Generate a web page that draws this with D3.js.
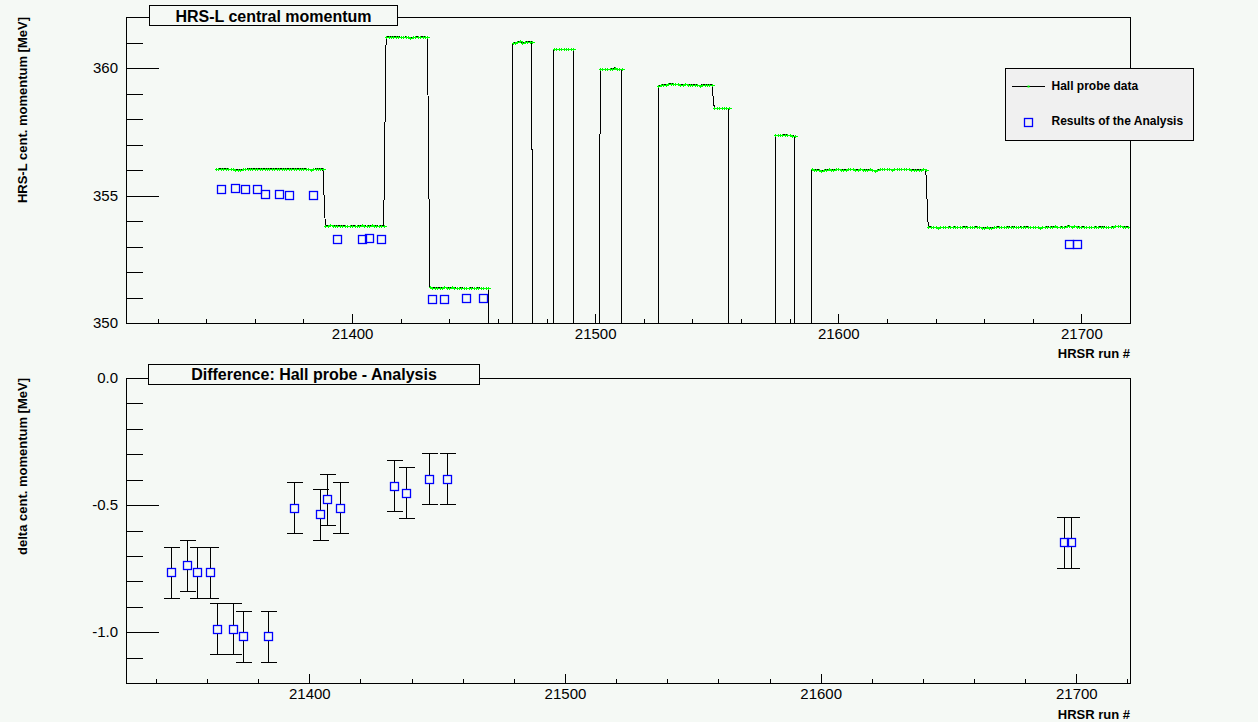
<!DOCTYPE html>
<html>
<head>
<meta charset="utf-8">
<script src="https://cdn.jsdelivr.net/npm/d3@7/dist/d3.min.js"></script>
<style>
  html, body { margin: 0; padding: 0; background: #f5f9f5; }
  svg { display: block; font-family: "Liberation Sans", Arial, Helvetica, sans-serif; }
</style>
</head>
<body>
<svg id="chart" width="1258" height="722"></svg>
<script>
// ---------------- DATA ----------------
// Hall probe readings: one value per run, consecutive runs starting at hallSegStart[i]
const hallSegStart = [21344, 21389, 21414, 21432, 21466, 21483, 21502, 21526, 21549, 21574, 21589, 21637];
const hallSeg1 = [
  356.03, 356.04, 356.04, 356.04, 356.05, 356.04, 356.02, 356.04, 356.00, 356.01, 356.00, 356.02, 356.03, 356.04, 356.04,
  356.05, 356.04, 356.04, 356.05, 356.04, 356.04, 356.04, 356.05, 356.04, 356.04, 356.04, 356.05, 356.04, 356.04, 356.04,
  356.05, 356.04, 356.04, 356.04, 356.04, 356.05, 356.04, 356.04, 356.03, 356.01, 356.03, 356.04, 356.04, 356.05, 356.04];
const hallSeg2 = [
  353.80, 353.82, 353.83, 353.82, 353.81, 353.82, 353.80, 353.82, 353.81, 353.79, 353.80, 353.82, 353.81,
  353.80, 353.82, 353.83, 353.82, 353.80, 353.82, 353.83, 353.81, 353.82, 353.80, 353.82, 353.81];
const hallSeg3 = [
  361.21, 361.22, 361.23, 361.22, 361.22, 361.23, 361.21, 361.20, 361.22,
  361.21, 361.19, 361.20, 361.22, 361.22, 361.21, 361.22, 361.22, 361.21];
const hallSeg4 = [
  351.42, 351.39, 351.38, 351.37, 351.38, 351.38, 351.40, 351.38, 351.39, 351.41, 351.38, 351.37, 351.37,
  351.38, 351.37, 351.37, 351.37, 351.38, 351.37, 351.37, 351.38, 351.37, 351.37, 351.37, 351.36];
const hallSeg5 = [360.97, 361.00, 361.02, 361.04, 361.00, 361.01, 361.03, 361.03, 361.03];
const hallSeg6 = [360.73, 360.74, 360.73, 360.73, 360.74, 360.73, 360.73, 360.73, 360.73];
const hallSeg7 = [359.95, 359.95, 359.95, 359.96, 359.95, 359.98, 360.00, 359.97, 359.95, 359.95];
const hallSeg8 = [
  359.31, 359.33, 359.35, 359.35, 359.36, 359.39, 359.37, 359.36, 359.36, 359.35, 359.35, 359.36,
  359.35, 359.35, 359.35, 359.35, 359.33, 359.31, 359.34, 359.35, 359.35, 359.35, 359.35];
const hallSeg8b = [358.42, 358.42, 358.43, 358.42, 358.42, 358.42, 358.42];
const hallSeg9 = [357.36, 357.37, 357.37, 357.37, 357.38, 357.37, 357.37, 357.35, 357.33];
const hallSeg10 = [
  356.02, 356.01, 356.01, 356.00, 355.95, 356.00, 356.01, 356.02, 356.01, 356.01, 356.02, 356.02,
  356.01, 356.00, 356.01, 356.02, 356.03, 356.02, 356.01, 356.01, 356.02, 356.01, 356.00, 356.01,
  356.02, 356.00, 355.95, 356.01, 356.02, 356.03, 356.02, 356.02, 356.02, 356.01, 356.02, 356.02,
  356.02, 356.02, 356.02, 356.02, 356.02, 356.01, 356.00, 356.01, 356.00, 356.01, 356.02, 356.01];
const hallSeg11 = [
  353.76, 353.77, 353.75, 353.76, 353.74, 353.75, 353.76, 353.75, 353.75, 353.77, 353.76, 353.77,
  353.76, 353.75, 353.76, 353.77, 353.77, 353.75, 353.76, 353.76, 353.77, 353.76, 353.74, 353.74,
  353.75, 353.74, 353.74, 353.75, 353.76, 353.77, 353.76, 353.75, 353.76, 353.77, 353.76, 353.77,
  353.76, 353.75, 353.77, 353.76, 353.77, 353.77, 353.76, 353.75, 353.76, 353.75, 353.74, 353.75,
  353.76, 353.77, 353.76, 353.77, 353.79, 353.76, 353.75, 353.77, 353.76, 353.80, 353.82, 353.78,
  353.80, 353.77, 353.77, 353.76, 353.77, 353.75, 353.76, 353.76, 353.75, 353.77, 353.76, 353.77,
  353.78, 353.76, 353.75, 353.76, 353.77, 353.80, 353.79, 353.79, 353.78, 353.77, 353.77, 353.76];
// runs where the probe reading was off (value 0, far below the axis)
const hallOffRuns = [21457, 21465, 21475, 21482, 21492, 21501, 21512, 21525, 21556, 21573, 21583, 21588];
const hallOffValue = 0;

// Analysis results
const anaRuns = [21346, 21352, 21356, 21361, 21364, 21370, 21374, 21384, 21394, 21404, 21407, 21412,
                 21433, 21438, 21447, 21454, 21695, 21698];
const anaMomentum = [355.27, 355.30, 355.27, 355.27, 355.05, 355.05, 355.02, 355.02, 353.31, 353.28, 353.34, 353.31,
                     350.96, 350.93, 350.98, 350.98, 353.11, 353.11];
const deltaValues = [-0.765, -0.737, -0.765, -0.765, -0.987, -0.987, -1.016, -1.016, -0.510, -0.537, -0.478, -0.510,
                     -0.424, -0.451, -0.396, -0.396, -0.647, -0.647];
const deltaErrors = [0.1, 0.1, 0.1, 0.1, 0.1, 0.1, 0.1, 0.1, 0.1, 0.1, 0.1, 0.1, 0.1, 0.1, 0.1, 0.1, 0.1, 0.1];

// Tick labels
const xMajorTicks = [21400, 21500, 21600, 21700];
const yTopMajorTicks = [350, 355, 360];
const yBotMajorTicks = [-1.0, -0.5, 0.0];

// Texts
const topTitle = "HRS-L central momentum";
const botTitle = "Difference: Hall probe - Analysis";
const topYTitle = "HRS-L cent. momentum [MeV]";
const botYTitle = "delta cent. momentum [MeV]";
const xTitle = "HRSR run #";
const legendLabels = ["Hall probe data", "Results of the Analysis"];

// ---------------- STYLE ----------------
const BG = "#f5f9f5";
const GREEN = "#00ff00";
const BLUE = "#0000ff";

const svg = d3.select("#chart");
svg.append("rect").attr("width", 1258).attr("height", 722).attr("fill", BG);

// ---------------- SCALES ----------------
const xTop = d3.scaleLinear().domain([21307, 21720]).range([126, 1130]);
const yTop = d3.scaleLinear().domain([350, 362]).range([323, 17]);
const xBot = d3.scaleLinear().domain([21328.3, 21721]).range([126, 1130]);
const yBot = d3.scaleLinear().domain([-1.2, 0]).range([683, 378]);

function drawAxes(g, xs, ys, yMajors, yFmt, yMinorCount) {
  const [x0, x1] = xs.range();
  const [yb, yt] = ys.range();
  const xMinor = xs.ticks(20).filter(v => !xMajorTicks.includes(v));
  g.append("g").attr("transform", `translate(0,${yb})`)
    .call(d3.axisBottom(xs).tickValues(xMinor).tickSizeInner(-4.5).tickSizeOuter(0).tickFormat(""))
    .call(a => a.select(".domain").remove());
  g.append("g").attr("transform", `translate(0,${yb})`)
    .call(d3.axisBottom(xs).tickValues(xMajorTicks).tickSizeInner(-9.5).tickSizeOuter(0).tickPadding(5).tickFormat(d3.format("d")))
    .call(a => a.select(".domain").remove());
  const yMinor = ys.ticks(yMinorCount).filter(v => !yMajors.some(m => Math.abs(m - v) < 1e-9));
  g.append("g").attr("transform", `translate(${x0},0)`)
    .call(d3.axisLeft(ys).tickValues(yMinor).tickSizeInner(-16.5).tickSizeOuter(0).tickFormat(""))
    .call(a => a.select(".domain").remove());
  g.append("g").attr("transform", `translate(${x0},0)`)
    .call(d3.axisLeft(ys).tickValues(yMajors).tickSizeInner(-32.5).tickSizeOuter(0).tickPadding(8).tickFormat(yFmt))
    .call(a => a.select(".domain").remove());
  g.selectAll(".tick line").attr("stroke", "#000").attr("shape-rendering", "crispEdges");
  g.selectAll(".tick text").attr("font-size", 15).attr("fill", "#000")
    .attr("font-family", '"Liberation Sans", Arial, sans-serif');
  g.append("rect").attr("x", x0 + 0.5).attr("y", yt + 0.5)
    .attr("width", x1 - x0).attr("height", yb - yt)
    .attr("fill", "none").attr("stroke", "#000").attr("stroke-width", 1)
    .attr("shape-rendering", "crispEdges");
}

function titleBox(g, text, x, y, w, h, baseline) {
  g.append("rect").attr("x", x).attr("y", y).attr("width", w).attr("height", h)
    .attr("fill", BG).attr("stroke", "#000").attr("shape-rendering", "crispEdges");
  g.append("text").attr("x", x + w / 2).attr("y", baseline).attr("text-anchor", "middle")
    .attr("font-size", 16).attr("font-weight", "bold").text(text);
}

// ---------------- TOP PANEL ----------------
const topG = svg.append("g");
topG.append("clipPath").attr("id", "clipTop").append("rect")
  .attr("x", 126).attr("y", 17).attr("width", 1005).attr("height", 307);

const segs = [hallSeg1, hallSeg2, hallSeg3, hallSeg4, hallSeg5, hallSeg6, hallSeg7, hallSeg8, hallSeg8b, hallSeg9, hallSeg10, hallSeg11];
const hall = [];
segs.forEach((vals, i) => vals.forEach((v, j) => hall.push({ run: hallSegStart[i] + j, v })));
hallOffRuns.forEach(r => hall.push({ run: r, v: hallOffValue }));
hall.sort((a, b) => a.run - b.run);

const plotTop = topG.append("g").attr("clip-path", "url(#clipTop)");
plotTop.append("path").datum(hall)
  .attr("d", d3.line().x(d => xTop(d.run)).y(d => yTop(d.v)))
  .attr("fill", "none").attr("stroke", "#000").attr("stroke-width", 1)
  .attr("shape-rendering", "crispEdges");
const cross = 1.6;
plotTop.append("path")
  .attr("d", hall.filter(d => d.v >= 350).map(d => {
    const x = Math.round(xTop(d.run)) + 0.5, y = Math.round(yTop(d.v)) + 0.5;
    return `M${x - 2},${y}H${x + 2}M${x},${y - cross}V${y + cross}`;
  }).join(""))
  .attr("stroke", GREEN).attr("stroke-width", 1).attr("fill", "none")
  .attr("shape-rendering", "crispEdges");

topG.append("g").selectAll("rect").data(anaRuns).join("rect")
  .attr("x", d => Math.round(xTop(d)) - 4 + 0.5)
  .attr("y", (d, i) => Math.round(yTop(anaMomentum[i])) - 4 + 0.5)
  .attr("width", 8).attr("height", 8)
  .attr("fill", "none").attr("stroke", BLUE).attr("stroke-width", 1.3);

drawAxes(topG, xTop, yTop, yTopMajorTicks, d3.format("d"), 12);
titleBox(topG, topTitle, 149.5, 5.5, 248, 19.5, 21.5);

topG.append("text").attr("transform", "translate(26.5,17) rotate(-90)")
  .attr("text-anchor", "end").attr("font-size", 13).attr("font-weight", "bold").text(topYTitle);
topG.append("text").attr("x", 1130).attr("y", 358).attr("text-anchor", "end")
  .attr("font-size", 13).attr("font-weight", "bold").text(xTitle);

// legend
const leg = topG.append("g");
leg.append("rect").attr("x", 1005.5).attr("y", 68.5).attr("width", 188).attr("height", 72)
  .attr("fill", "#f0f0f0").attr("stroke", "#000").attr("shape-rendering", "crispEdges");
leg.append("line").attr("x1", 1012).attr("x2", 1045).attr("y1", 86.5).attr("y2", 86.5)
  .attr("stroke", "#000").attr("shape-rendering", "crispEdges");
leg.append("rect").attr("x", 1027.5).attr("y", 85.5).attr("width", 2).attr("height", 2).attr("fill", GREEN);
leg.append("text").attr("x", 1051.5).attr("y", 90).attr("font-size", 12).attr("font-weight", "bold").text(legendLabels[0]);
leg.append("rect").attr("x", 1024.5).attr("y", 118.5).attr("width", 8).attr("height", 8)
  .attr("fill", "none").attr("stroke", BLUE).attr("stroke-width", 1.3);
leg.append("text").attr("x", 1051.5).attr("y", 125).attr("font-size", 12).attr("font-weight", "bold").text(legendLabels[1]);

// ---------------- BOTTOM PANEL ----------------
const botG = svg.append("g");
const bars = botG.append("g").attr("stroke", "#000").attr("stroke-width", 1).attr("shape-rendering", "crispEdges");
anaRuns.forEach((r, i) => {
  const x = Math.round(xBot(r)) + 0.5;
  const yc = Math.round(yBot(deltaValues[i])) + 0.5;
  const yHi = Math.round(yBot(deltaValues[i] + deltaErrors[i])) + 0.5;
  const yLo = Math.round(yBot(deltaValues[i] - deltaErrors[i])) + 0.5;
  bars.append("line").attr("x1", x).attr("x2", x).attr("y1", yHi).attr("y2", yc - 4);
  bars.append("line").attr("x1", x).attr("x2", x).attr("y1", yc + 4).attr("y2", yLo);
  bars.append("line").attr("x1", x - 8).attr("x2", x + 8).attr("y1", yHi).attr("y2", yHi);
  bars.append("line").attr("x1", x - 8).attr("x2", x + 8).attr("y1", yLo).attr("y2", yLo);
});
botG.append("g").selectAll("rect").data(anaRuns).join("rect")
  .attr("x", d => Math.round(xBot(d)) - 4 + 0.5)
  .attr("y", (d, i) => Math.round(yBot(deltaValues[i])) - 4 + 0.5)
  .attr("width", 8).attr("height", 8)
  .attr("fill", "none").attr("stroke", BLUE).attr("stroke-width", 1.3);

drawAxes(botG, xBot, yBot, yBotMajorTicks, v => v.toFixed(1), 12);
titleBox(botG, botTitle, 148.5, 364.5, 331, 19.5, 379.5);

botG.append("text").attr("transform", "translate(26.5,378) rotate(-90)")
  .attr("text-anchor", "end").attr("font-size", 13).attr("font-weight", "bold").text(botYTitle);
botG.append("text").attr("x", 1130).attr("y", 719).attr("text-anchor", "end")
  .attr("font-size", 13).attr("font-weight", "bold").text(xTitle);
</script>
</body>
</html>
